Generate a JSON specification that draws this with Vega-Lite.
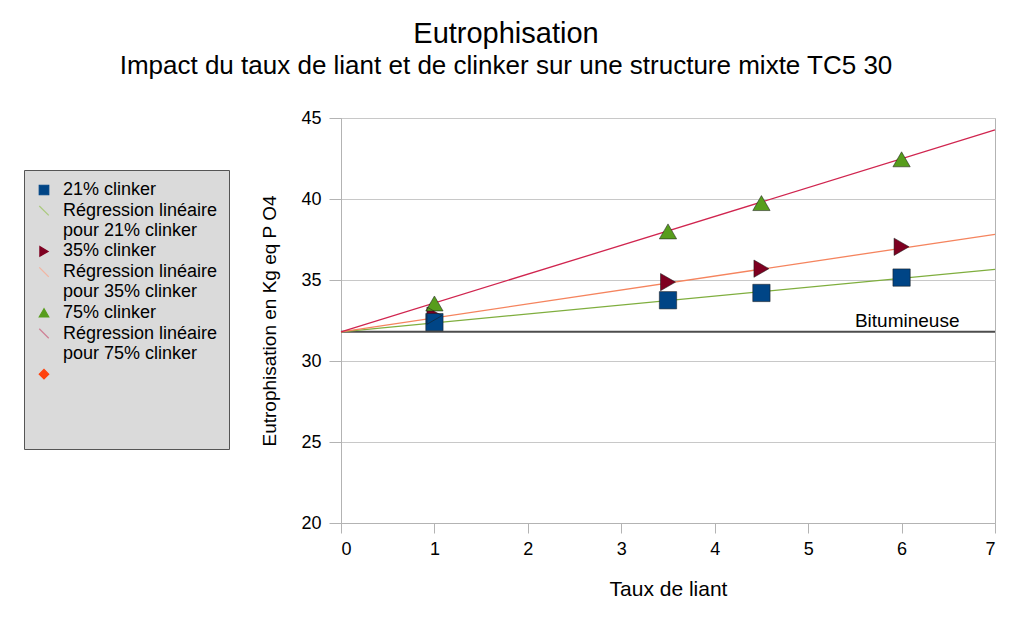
{
  "$schema": "https://vega.github.io/schema/vega-lite/v6.json",
  "width": 654,
  "height": 405,
  "autosize": {"type": "none"},
  "padding": {"left": 341, "top": 118, "right": 17, "bottom": 105},
  "background": "white",
  "title": {
    "text": "Eutrophisation",
    "subtitle": "Impact du taux de liant et de clinker sur une structure mixte TC5 30",
    "anchor": "middle",
    "dx": -162,
    "offset": 30,
    "font": "Liberation Sans",
    "fontSize": 29,
    "fontWeight": "normal",
    "color": "#000000",
    "subtitleFont": "Liberation Sans",
    "subtitleFontSize": 26,
    "subtitleColor": "#000000",
    "subtitlePadding": 4
  },
  "config": {
    "view": {"stroke": "#b3b3b3", "strokeWidth": 1},
    "axis": {
      "labelFont": "Liberation Sans",
      "labelFontSize": 18,
      "labelColor": "#000000",
      "titleFont": "Liberation Sans",
      "titleFontSize": 19,
      "titleFontWeight": "normal",
      "titleColor": "#000000",
      "domainColor": "#b3b3b3",
      "tickColor": "#b3b3b3",
      "gridColor": "#c8c8c8",
      "tickSize": 10
    },
    "legend": {
      "orient": "none",
      "legendX": -317,
      "legendY": 52,
      "titleOrient": "bottom",
      "titlePadding": 44,
      "titleFontSize": 12,
      "fillColor": "#dadada",
      "strokeColor": "#555555",
      "padding": 11,
      "symbolSize": 90,
      "symbolStrokeWidth": 1.2,
      "labelFont": "Liberation Sans",
      "labelFontSize": 18,
      "labelColor": "#000000",
      "labelOffset": 10,
      "rowPadding": 2.7
    }
  },
  "datasets": {
    "points": [
      {"serie": "35% clinker", "x": 1, "y": 32.8},
      {"serie": "35% clinker", "x": 3.5, "y": 34.87},
      {"serie": "35% clinker", "x": 4.5, "y": 35.7},
      {"serie": "35% clinker", "x": 6, "y": 37.05},
      {"serie": "21% clinker", "x": 1, "y": 32.4},
      {"serie": "21% clinker", "x": 3.5, "y": 33.75},
      {"serie": "21% clinker", "x": 4.5, "y": 34.2},
      {"serie": "21% clinker", "x": 6, "y": 35.15},
      {"serie": "75% clinker", "x": 1, "y": 33.55},
      {"serie": "75% clinker", "x": 3.5, "y": 38.0},
      {"serie": "75% clinker", "x": 4.5, "y": 39.75},
      {"serie": "75% clinker", "x": 6, "y": 42.45}
    ]
  },
  "layer": [
    {
      "data": {"values": [{"niveau": 31.8}]},
      "mark": {"type": "rule", "color": "#4d4d4d", "strokeWidth": 2},
      "encoding": {
        "y": {"field": "niveau", "type": "quantitative", "scale": {"domain": [20, 45], "nice": false}}
      }
    },
    {
      "data": {"values": [{"x": 6.06, "y": 31.8, "texte": "Bitumineuse"}]},
      "mark": {"type": "text", "font": "Liberation Sans", "fontSize": 19, "baseline": "bottom", "align": "center", "dy": -1, "color": "#000000"},
      "encoding": {
        "x": {"field": "x", "type": "quantitative"},
        "y": {"field": "y", "type": "quantitative"},
        "text": {"field": "texte"}
      }
    },
    {
      "data": {"values": [
        {"serie": "Régression linéaire|pour 21% clinker", "x": 0, "y": 31.8},
        {"serie": "Régression linéaire|pour 21% clinker", "x": 7, "y": 35.66},
        {"serie": "Régression linéaire|pour 35% clinker", "x": 0, "y": 31.8},
        {"serie": "Régression linéaire|pour 35% clinker", "x": 7, "y": 37.82},
        {"serie": "Régression linéaire|pour 75% clinker", "x": 0, "y": 31.8},
        {"serie": "Régression linéaire|pour 75% clinker", "x": 7, "y": 44.26}
      ]},
      "mark": {"type": "line", "strokeWidth": 1.3},
      "encoding": {
        "x": {"field": "x", "type": "quantitative"},
        "y": {"field": "y", "type": "quantitative"},
        "stroke": {
          "field": "serie",
          "type": "nominal",
          "legend": null,
          "scale": {
            "domain": ["Régression linéaire|pour 21% clinker", "Régression linéaire|pour 35% clinker", "Régression linéaire|pour 75% clinker"],
            "range": ["#7fae3e", "#f5845e", "#d0254f"]
          }
        }
      }
    },
    {
      "data": {"name": "points"},
      "mark": {"type": "point", "filled": true, "opacity": 1, "size": 300},
      "encoding": {
        "x": {
          "field": "x",
          "type": "quantitative",
          "title": "Taux de liant",
          "scale": {"domain": [0, 7], "nice": false},
          "axis": {"values": [0, 1, 2, 3, 4, 5, 6, 7], "grid": false, "labelPadding": 7, "titlePadding": 20, "titleFontSize": 21, "format": "d"}
        },
        "y": {
          "field": "y",
          "type": "quantitative",
          "title": "Eutrophisation en Kg eq P O4",
          "scale": {"domain": [20, 45], "nice": false},
          "axis": {"values": [20, 25, 30, 35, 40, 45], "grid": true, "tickSize": 12, "labelPadding": 8, "titlePadding": 21}
        },
        "color": {
          "field": "serie",
          "type": "nominal",
          "scale": {
            "domain": ["21% clinker", "Régression linéaire|pour 21% clinker", "35% clinker", "Régression linéaire|pour 35% clinker", "75% clinker", "Régression linéaire|pour 75% clinker", "(vide)"],
            "range": ["#004586", "#a9c97c", "#7e0021", "#f3b4a0", "#579d1c", "#cf8096", "#ff420e"]
          },
          "legend": {
            "title": " ",
            "symbolStrokeColor": {"expr": "scale('color', datum.value)"},
            "labelExpr": "datum.label == '(vide)' ? '' : split(datum.label, '|')",
            "encode": {
              "labels": {"lineHeight": {"value": 20.7}}
            }
          }
        },
        "shape": {
          "field": "serie",
          "type": "nominal",
          "scale": {
            "domain": ["21% clinker", "Régression linéaire|pour 21% clinker", "35% clinker", "Régression linéaire|pour 35% clinker", "75% clinker", "Régression linéaire|pour 75% clinker", "(vide)"],
            "range": ["square", "M-1,-1L1,1", "triangle-right", "M-1,-1L1,1", "triangle-up", "M-1,-1L1,1", "diamond"]
          },
          "legend": {
            "title": " ",
            "symbolStrokeColor": {"expr": "scale('color', datum.value)"},
            "labelExpr": "datum.label == '(vide)' ? '' : split(datum.label, '|')",
            "encode": {
              "labels": {"lineHeight": {"value": 20.7}}
            }
          }
        }
      }
    },
    {
      "data": {"name": "points"},
      "mark": {"type": "point", "filled": false, "size": 300, "stroke": "#1a1a1a", "strokeWidth": 1, "strokeOpacity": 0.75},
      "encoding": {
        "x": {"field": "x", "type": "quantitative"},
        "y": {"field": "y", "type": "quantitative"},
        "shape": {"field": "serie", "type": "nominal", "legend": null}
      }
    }
  ]
}
